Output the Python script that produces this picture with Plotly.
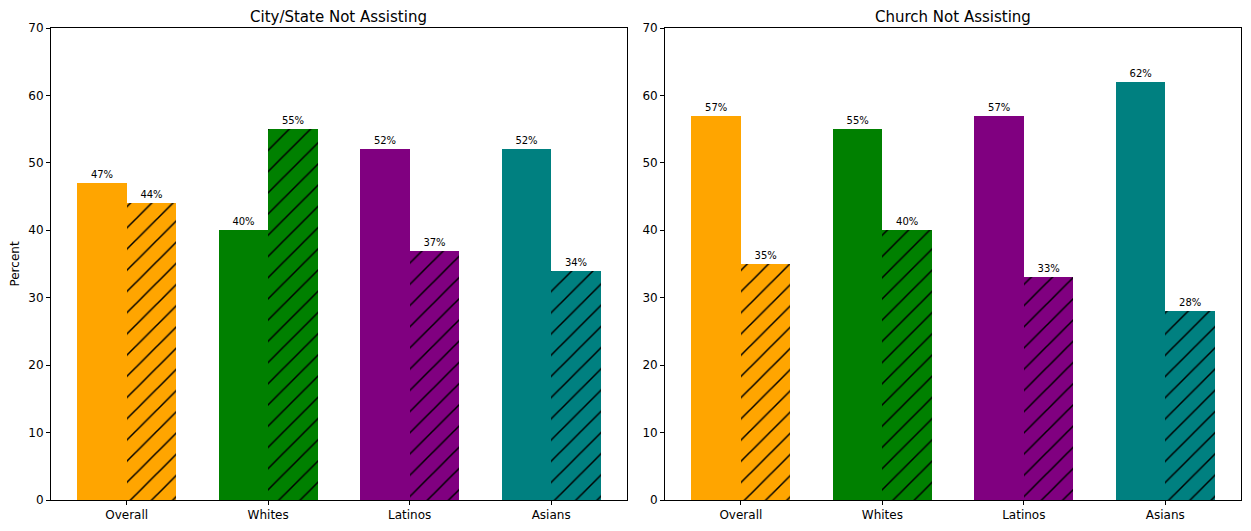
import plotly.graph_objects as go

categories = ["Overall", "Whites", "Latinos", "Asians"]
colors = ["#FFA500", "#008000", "#800080", "#008080"]
city_solid = [47, 40, 52, 52]
city_hatch = [44, 55, 37, 34]
church_solid = [57, 55, 57, 62]
church_hatch = [35, 40, 33, 28]
titles = ["City/State Not Assisting", "Church Not Assisting"]
yticks = [0, 10, 20, 30, 40, 50, 60, 70]

W = 0.35
xs = list(range(len(categories)))
fig = go.Figure()

panels = [(city_solid, city_hatch, "x", "y"), (church_solid, church_hatch, "x2", "y2")]
for solid, hatch, xa, ya in panels:
    fig.add_trace(go.Bar(
        x=[x - W / 2 for x in xs], y=solid, width=W,
        marker=dict(color=colors, line=dict(width=0)),
        text=[f"{v}%" for v in solid], textposition="outside",
        textfont=dict(size=10, color="black"), cliponaxis=False,
        xaxis=xa, yaxis=ya, showlegend=False, hoverinfo="skip"))
    for i, x in enumerate(xs):
        fig.add_trace(go.Bar(
            x=[x + W / 2], y=[hatch[i]], width=W,
            marker=dict(color=colors[i], line=dict(width=0),
                        pattern=dict(shape="/", fillmode="replace", bgcolor=colors[i],
                                     fgcolor="black", fgopacity=1, size=15, solidity=0.1)),
            text=[f"{hatch[i]}%"], textposition="outside",
            textfont=dict(size=10, color="black"), cliponaxis=False,
            xaxis=xa, yaxis=ya, showlegend=False, hoverinfo="skip"))

axis_common = dict(showline=True, linecolor="black", linewidth=1, mirror=True,
                   ticks="outside", ticklen=4, tickcolor="black", showgrid=False,
                   zeroline=False, tickfont=dict(size=12, color="black"))
xr = [-0.535, 3.535]
fig.update_layout(
    width=1235, height=515,
    margin=dict(l=43, r=2, t=20, b=23),
    plot_bgcolor="white", paper_bgcolor="white",
    font=dict(family="DejaVu Sans", color="black"),
    barmode="overlay", bargap=0,
    xaxis=dict(domain=[0, 0.4839], range=xr, tickvals=xs, ticktext=categories, anchor="y", **axis_common),
    xaxis2=dict(domain=[0.5161, 1], range=xr, tickvals=xs, ticktext=categories, anchor="y2", **axis_common),
    yaxis=dict(range=[0, 70], tickvals=yticks, anchor="x",
               title=dict(text="Percent", font=dict(size=12), standoff=8), **axis_common),
    yaxis2=dict(range=[0, 70], tickvals=yticks, anchor="x2", **axis_common),
    annotations=[
        dict(text=titles[0], x=0.242, y=1, xref="paper", yref="paper", xanchor="center",
             yanchor="bottom", yshift=0, showarrow=False, font=dict(size=15)),
        dict(text=titles[1], x=0.758, y=1, xref="paper", yref="paper", xanchor="center",
             yanchor="bottom", yshift=0, showarrow=False, font=dict(size=15)),
    ],
)
fig.write_html("out.html")
